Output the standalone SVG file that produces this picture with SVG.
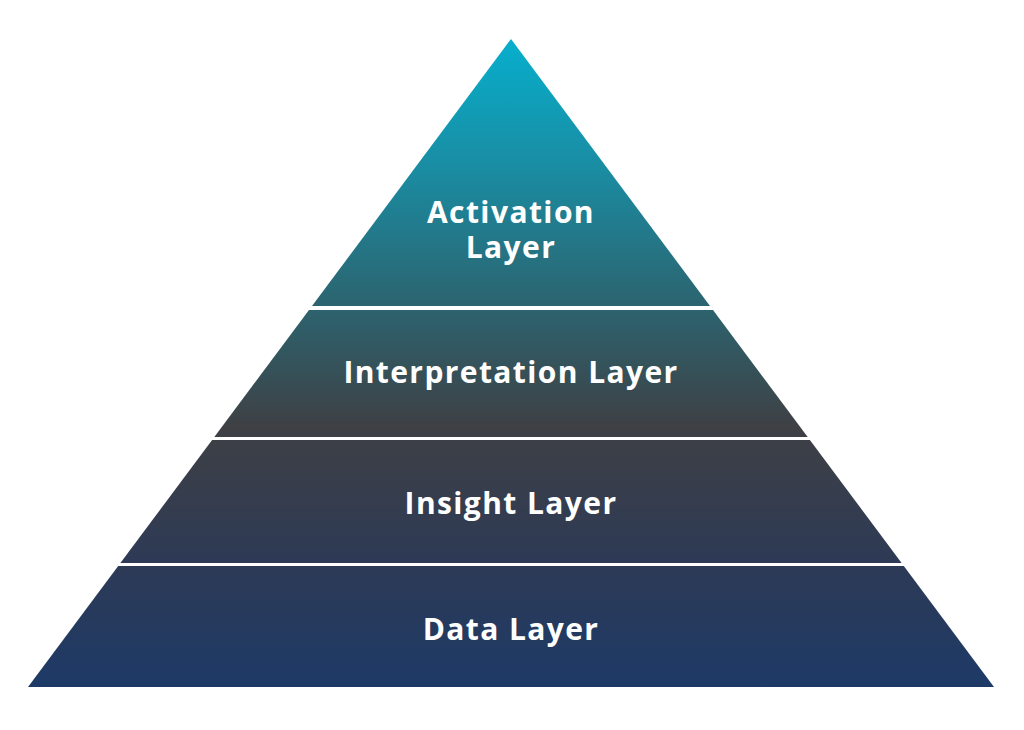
<svg xmlns="http://www.w3.org/2000/svg" width="1024" height="730" viewBox="0 0 1024 730">
  <defs>
    <linearGradient id="pg" gradientUnits="userSpaceOnUse" x1="0" y1="39" x2="0" y2="687">
      <stop offset="0" stop-color="#07afcd"/>
      <stop offset="0.2" stop-color="#1a8ca2"/>
      <stop offset="0.41" stop-color="#2c6470"/>
      <stop offset="0.6" stop-color="#3e4044"/>
      <stop offset="0.8" stop-color="#2e3a55"/>
      <stop offset="1" stop-color="#1d3a67"/>
    </linearGradient>
    <style>
      .layer { fill: url(#pg); }
      .lbl { font-family: "Open Sans", "Liberation Sans", sans-serif; font-weight: 700; font-size: 30px; letter-spacing: 1.4px; fill: #ffffff; text-anchor: middle; }
    </style>
  </defs>
  <rect width="1024" height="730" fill="#ffffff"/>
  <g id="activation-layer">
    <polygon class="layer" points="511,39 710,306 312,306"/>
    <text class="lbl" x="511" y="223">Activation</text>
    <text class="lbl" x="511" y="258">Layer</text>
  </g>
  <g id="interpretation-layer">
    <polygon class="layer" points="309,310 713,310 807.7,437 214.3,437"/>
    <text class="lbl" x="511" y="383">Interpretation Layer</text>
  </g>
  <g id="insight-layer">
    <polygon class="layer" points="212.1,440 809.9,440 901.6,563 120.4,563"/>
    <text class="lbl" x="511" y="514">Insight Layer</text>
  </g>
  <g id="data-layer">
    <polygon class="layer" points="118.2,566 903.8,566 994,687 28,687"/>
    <text class="lbl" x="511" y="640">Data Layer</text>
  </g>
  <g id="connectors"/>
</svg>
